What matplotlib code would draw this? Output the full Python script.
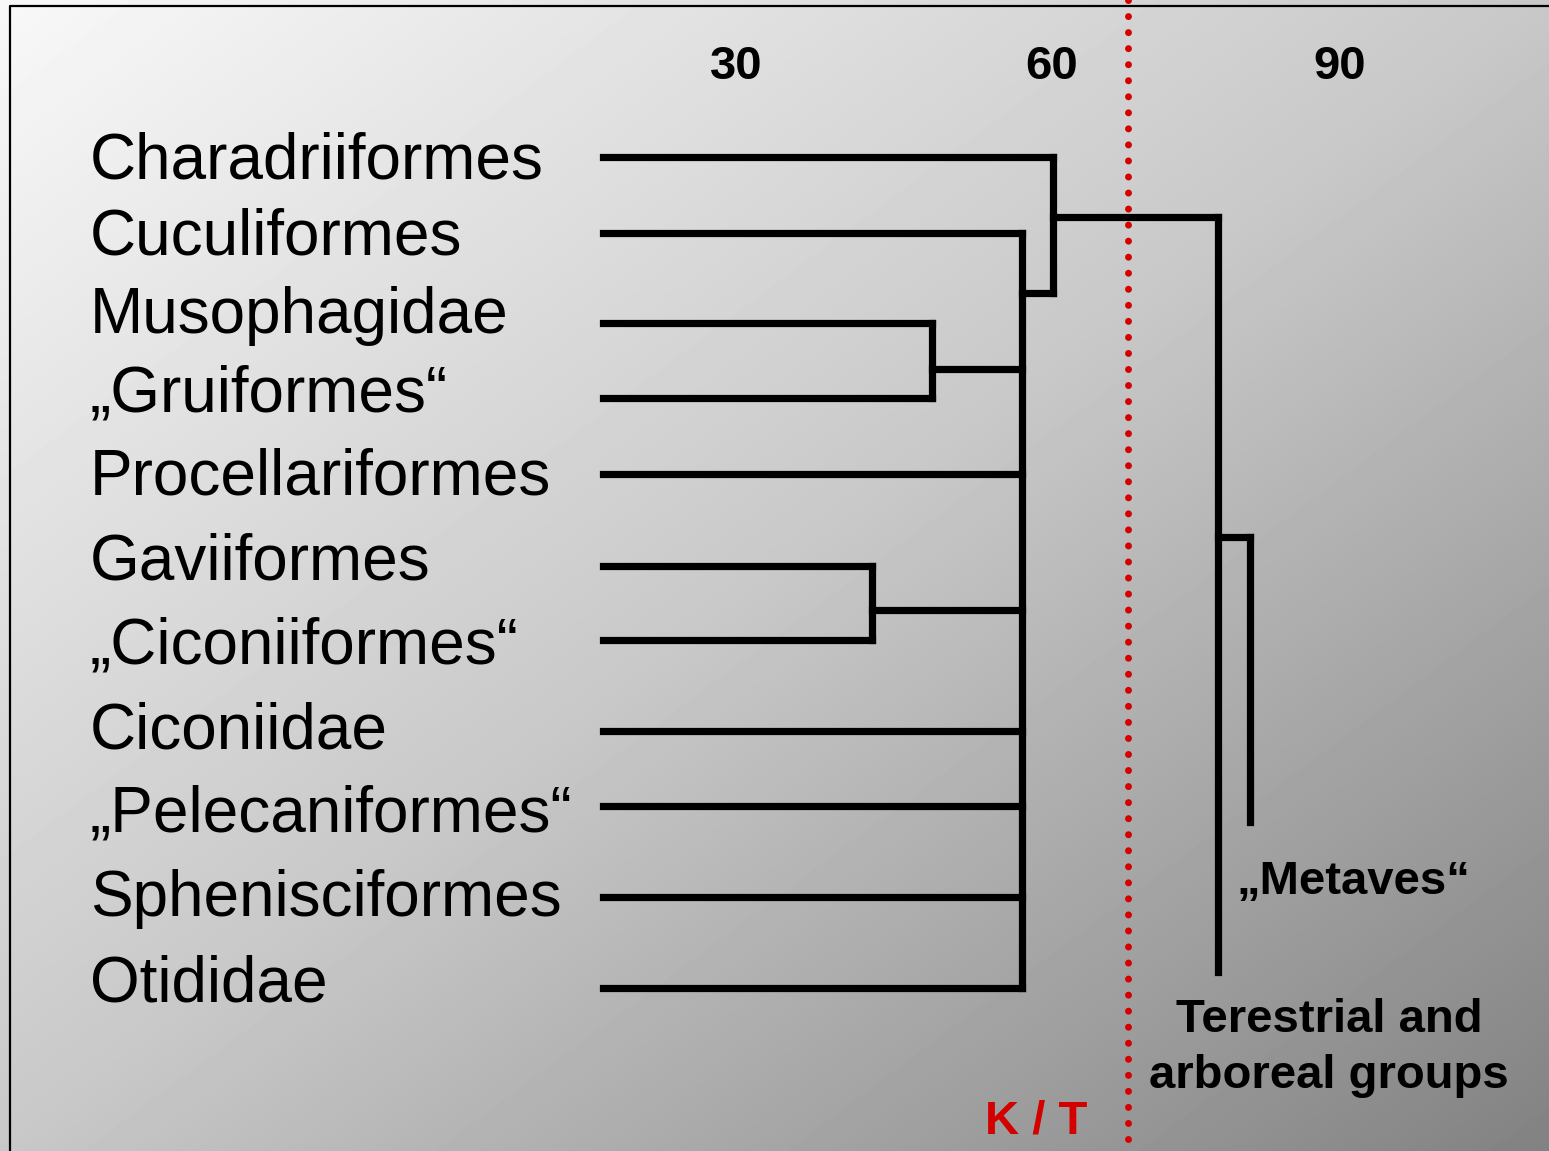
import numpy as np
import matplotlib
matplotlib.use('Agg')
import matplotlib.pyplot as plt
from matplotlib.transforms import blended_transform_factory

# leaves of the tree, top to bottom
labels = ['Charadriiformes', 'Cuculiformes', 'Musophagidae', '\u201eGruiformes\u201c',
          'Procellariformes', 'Gaviiformes', '\u201eCiconiiformes\u201c', 'Ciconiidae',
          '\u201ePelecaniformes\u201c', 'Sphenisciformes', 'Otididae']
leaf_row = [157, 233, 323, 398, 474, 566, 640, 731, 806, 897, 988]
label_row = [155, 231, 310, 388, 471, 556, 640, 725, 808, 893, 978]
tip_age = 17.4

# internal nodes: age (Myr) and row of the branch leading to it
node_age = {'gav': 42.9, 'muso': 48.6, 'comb': 57.2, 'char': 60.1}
node_row = {'gav': 610, 'muso': 369, 'comb': 293, 'char': 217}
node_children = {
    'gav': ['Gaviiformes', '\u201eCiconiiformes\u201c'],
    'muso': ['Musophagidae', '\u201eGruiformes\u201c'],
    'comb': ['Cuculiformes', 'muso', 'Procellariformes', 'gav', 'Ciconiidae',
             '\u201ePelecaniformes\u201c', 'Sphenisciformes', 'Otididae'],
    'char': ['Charadriiformes', 'comb'],
}
root_age = 75.8
root_end_row = 972
metaves_age = 78.8
metaves_rows = (537, 822)

kt_age = 67.2
tick_pos = [30, 60, 87.3]
tick_labels = ['30', '60', '90']

W, H = 1549, 1151
px_per_myr = 10.533
x0 = 30 - 736 / px_per_myr
x1 = 30 + (W - 736) / px_per_myr

fig = plt.figure(figsize=(W / 100, H / 100), dpi=100)
ax = fig.add_axes([0, 0, 1, 1])
ax.set_xlim(x0, x1)
ax.set_ylim(H, 0)
ax.axis('off')

# diagonal grey gradient background
gx, gy = np.meshgrid(np.linspace(0, 1, 300), np.linspace(0, 1, 300))
t = (gx + gy) / 2
grad = np.interp(t, [0, 0.5, 1], [248, 200, 130])
ax.imshow(grad, cmap='gray', vmin=0, vmax=255, extent=[x0, x1, H, 0],
          aspect='auto', interpolation='bilinear', zorder=0)

# frame on the left and top
ax.plot([9.5 / W, 9.5 / W, 1], [0, 1 - 6.3 / H, 1 - 6.3 / H], color='black',
        lw=1.6, transform=ax.transAxes, zorder=1)

lw = 5.2
kw = dict(color='black', lw=lw, solid_capstyle='projecting', zorder=3)

def pos(name):
    if name in node_age:
        return node_age[name], node_row[name]
    return tip_age, leaf_row[labels.index(name)]

for node, kids in node_children.items():
    a = node_age[node]
    rows = []
    for k in kids:
        ka, kr = pos(k)
        ax.plot([ka, a], [kr, kr], **kw)
        rows.append(kr)
    ax.plot([a, a], [min(rows), max(rows)], **kw)

# root and the two deep lineages
ax.plot([node_age['char'], root_age], [node_row['char'], node_row['char']], **kw)
ax.plot([root_age, root_age], [node_row['char'], root_end_row], **kw)
ax.plot([root_age, metaves_age], [metaves_rows[0], metaves_rows[0]], **kw)
ax.plot([metaves_age, metaves_age], list(metaves_rows), **kw)

# K/T boundary
ax.plot([kt_age, kt_age], [0, H], color='#d40000', lw=5,
        linestyle=(0, (0.01, 2.3)), dash_capstyle='round', zorder=2)

font = 'Liberation Sans'
tr = blended_transform_factory(ax.transAxes, ax.transData)
for lab, r in zip(labels, label_row):
    ax.text(90 / W, r + 23, lab, transform=tr, fontsize=46, family=font,
            va='baseline', ha='left', zorder=4)

for p, s in zip(tick_pos, tick_labels):
    ax.text(p, 79, s, fontsize=34, family=font, weight='bold',
            ha='center', va='baseline', zorder=4)

ax.text(1236 / W, 894, '\u201eMetaves\u201c', transform=tr, fontsize=34, family=font,
        weight='bold', ha='left', va='baseline', zorder=4)
ax.text(1329 / W, 1032, 'Terestrial and', transform=tr, fontsize=34, family=font,
        weight='bold', ha='center', va='baseline', zorder=4)
ax.text(1329 / W, 1088, 'arboreal groups', transform=tr, fontsize=34, family=font,
        weight='bold', ha='center', va='baseline', zorder=4)
ax.text(985 / W, 1134, 'K / T', transform=tr, fontsize=34, family=font,
        weight='bold', color='#d40000', ha='left', va='baseline', zorder=4)

fig.savefig('out.png', dpi=100)
